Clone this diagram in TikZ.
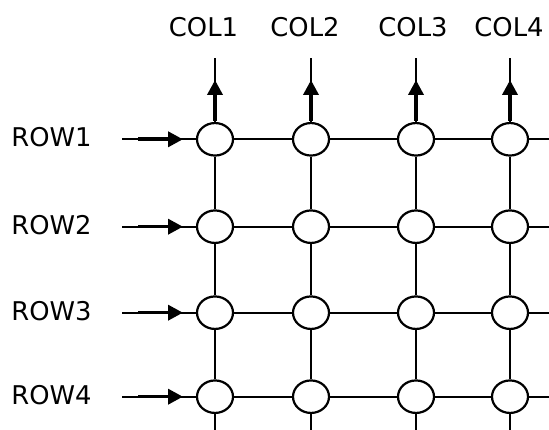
\documentclass[tikz,border=0pt]{standalone}
\usepackage{fontspec}
\setmainfont{DejaVu Sans}
\usetikzlibrary{shapes.geometric,arrows.meta}
\begin{document}
\begin{tikzpicture}[x=1pt,y=1pt,
  cell/.style={ellipse,draw,line width=2.2pt,fill=white,minimum width=36pt,minimum height=32.5pt,inner sep=0pt},
  wire/.style={line width=2.2pt},
  feed/.style={line width=3.6pt,-{Triangle[length=15pt,width=15pt]}},
  lbl/.style={font=\fontsize{25.8}{30}\selectfont,inner sep=0pt}]
\useasboundingbox (0,0) rectangle (549,430);
% cells
\foreach \r/\y in {1/290.7,2/203.3,3/117.3,4/33.3}{
  \foreach \c/\x in {1/215,2/311,3/416,4/510}{
    \node[cell] (n\r\c) at (\x,\y) {};
  }
}
% coordinates
\foreach \r/\y in {1/290.7,2/203.3,3/117.3,4/33.3}{
  \coordinate (in\r) at (122,\y);
  \coordinate (fs\r) at (138,\y);
  \coordinate (ft\r) at (183,\y);
  \coordinate (re\r) at (549,\y);
}
\foreach \c/\x in {1/215,2/311,3/416,4/510}{
  \coordinate (top\c) at (\x,372);
  \coordinate (ts\c) at (\x,309);
  \coordinate (tt\c) at (\x,350);
  \coordinate (be\c) at (\x,0);
}
% horizontal wires
\foreach \r in {1,2,3,4}{
  \draw[wire] (in\r) -- (n\r1.west);
  \draw[feed] (fs\r) -- (ft\r);
  \draw[wire] (n\r1.east) -- (n\r2.west);
  \draw[wire] (n\r2.east) -- (n\r3.west);
  \draw[wire] (n\r3.east) -- (n\r4.west);
  \draw[wire] (n\r4.east) -- (re\r);
}
% vertical wires
\foreach \c in {1,2,3,4}{
  \draw[wire] (n1\c.north) -- (top\c);
  \draw[feed] (ts\c) -- (tt\c);
  \draw[wire] (n1\c.south) -- (n2\c.north);
  \draw[wire] (n2\c.south) -- (n3\c.north);
  \draw[wire] (n3\c.south) -- (n4\c.north);
  \draw[wire] (n4\c.south) -- (be\c);
}
% labels
\node[lbl] (c1) at (203.5,403) {COL1};
\node[lbl] (c2) at (305,403) {COL2};
\node[lbl] (c3) at (413,403) {COL3};
\node[lbl] (c4) at (509,403) {COL4};
\node[lbl] (r1) at (51.5,292.5) {ROW1};
\node[lbl] (r2) at (51.5,205.1) {ROW2};
\node[lbl] (r3) at (51.5,119.1) {ROW3};
\node[lbl] (r4) at (51.5,35.1) {ROW4};
\end{tikzpicture}
\end{document}
